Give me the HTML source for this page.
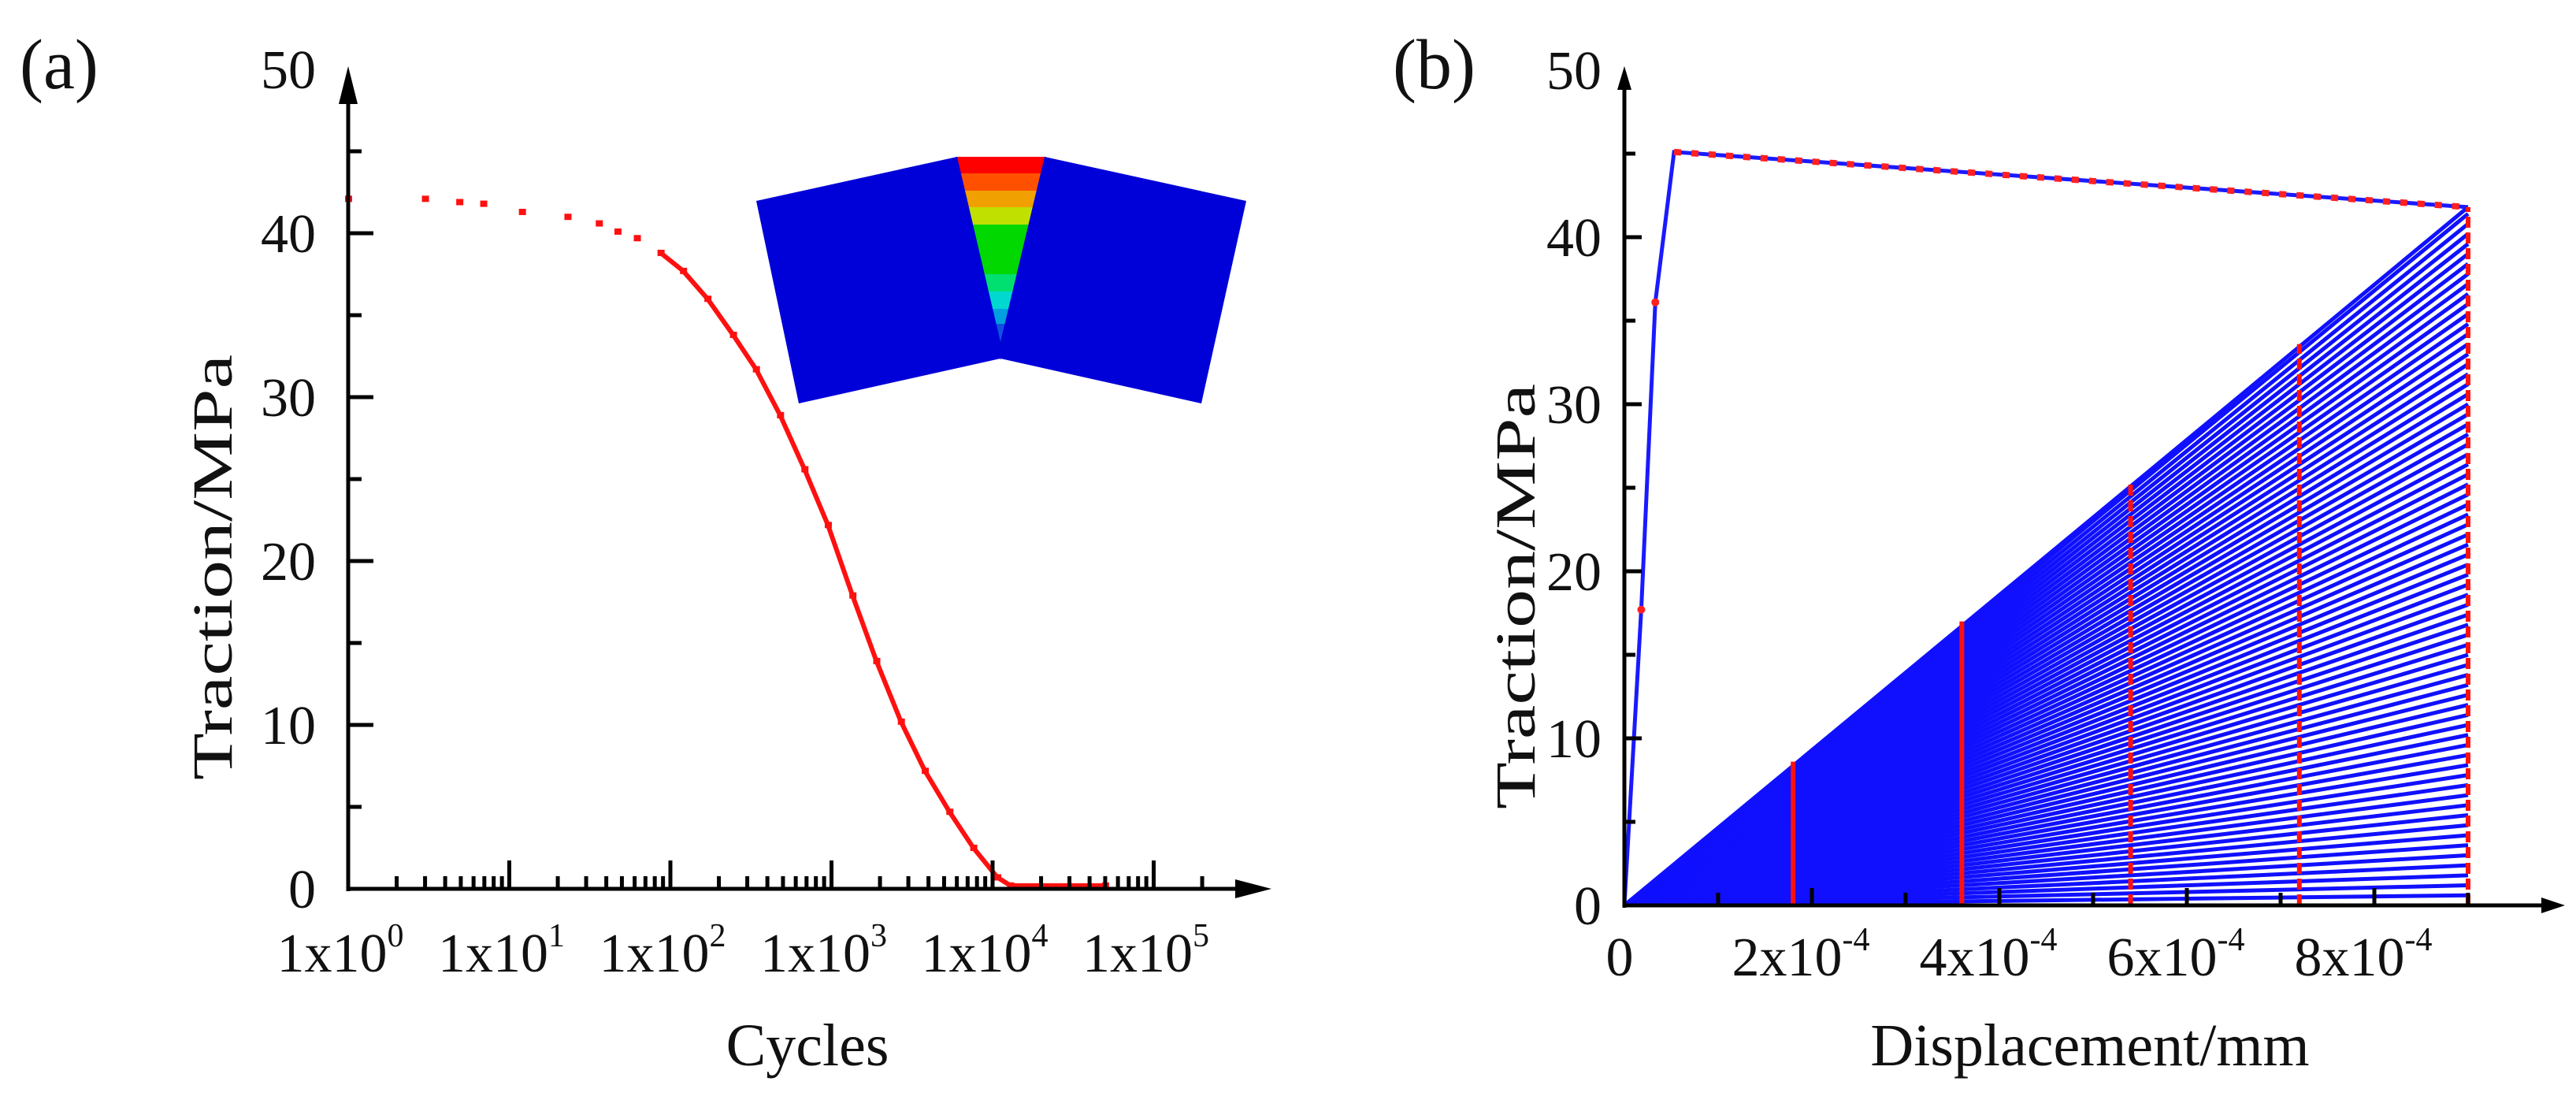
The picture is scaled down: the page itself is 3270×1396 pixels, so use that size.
<!DOCTYPE html>
<html><head><meta charset="utf-8"><style>
html,body{margin:0;padding:0;background:#fff;}
svg{display:block;}
text{font-family:"Liberation Serif","Times New Roman",serif;fill:#111;}
</style></head>
<body>
<svg id="fig" width="3270" height="1396" viewBox="0 0 3270 1396" xmlns="http://www.w3.org/2000/svg">
<text x="25" y="112" font-size="90">(a)</text>
<text x="1768" y="112" font-size="90">(b)</text>
<text transform="translate(294,720) rotate(-90)" text-anchor="middle" font-size="72" textLength="540" lengthAdjust="spacingAndGlyphs">Traction/MPa</text>
<text x="1025" y="1352" text-anchor="middle" font-size="76">Cycles</text>
<text transform="translate(1948,757) rotate(-90)" text-anchor="middle" font-size="72" textLength="540" lengthAdjust="spacingAndGlyphs">Traction/MPa</text>
<text x="2653" y="1352" text-anchor="middle" font-size="76">Displacement/mm</text>
<g id="inset">
<defs><clipPath id="wedgeClip"><polygon points="1215,199 1326,199 1270,434"/></clipPath></defs>
<polygon points="960,255 1215,199 1270,455 1014,512" fill="#0000d8"/>
<polygon points="1326,199 1582,255 1525,512 1270,455" fill="#0000d8"/>
<polygon points="1213,199 1328,199 1270,457" fill="#0000d8"/>
<g clip-path="url(#wedgeClip)">
<rect x="1200" y="199" width="140" height="22" fill="#ff0000"/>
<rect x="1200" y="220" width="140" height="23" fill="#ff5000"/>
<rect x="1200" y="242" width="140" height="22" fill="#f0a000"/>
<rect x="1200" y="263" width="140" height="23" fill="#c0e000"/>
<rect x="1200" y="285" width="140" height="64" fill="#00d800"/>
<rect x="1200" y="348" width="140" height="23" fill="#00e070"/>
<rect x="1200" y="370" width="140" height="23" fill="#00d8d0"/>
<rect x="1200" y="392" width="140" height="20" fill="#00a0e0"/>
<rect x="1200" y="411" width="140" height="25" fill="#1050e0"/>
</g>
</g>
</svg>
<script>
// ---- Panel (a) data ----
const cyclesA = [1, 3, 4.9, 6.9, 12, 23, 36, 47, 62, 87, 120, 170, 245, 340, 480, 680, 950, 1350, 1900, 2700, 3800, 5400, 7600, 10700, 12900, 50000];
const tractionA = [42.1, 42.1, 41.9, 41.8, 41.3, 41.0, 40.6, 40.1, 39.7, 38.8, 37.7, 36.0, 33.8, 31.7, 28.9, 25.6, 22.2, 17.9, 13.9, 10.2, 7.2, 4.7, 2.5, 0.7, 0.2, 0.2];
const aYTicks = [0, 10, 20, 30, 40, 50];
const aXDecades = [0, 1, 2, 3, 4, 5];
// ---- Panel (b) data ----
const envDisp = [0, 0.18e-4, 0.33e-4, 0.53e-4, 9.0e-4];
const envTraction = [0, 17.7, 36.1, 45.1, 41.8];
const unloadDisp = [1.8e-4, 3.6e-4, 5.4e-4, 7.2e-4, 9.0e-4];
const unloadTop = [8.6, 17.0, 25.2, 33.6, 41.8];
const fanEndDisp = 9.0e-4;
const fanEnd = [0.6,1.2,1.8,2.4,3.0,3.6,4.2,4.8,5.4,6.0,6.6,7.2,7.8,8.4,9.0,9.6,10.2,10.8,11.4,12.0,12.6,13.2,13.8,14.4,15.0,15.6,16.2,16.8,17.4,18.0,18.6,19.2,19.8,20.4,21.0,21.6,22.2,22.8,23.4,24.0,24.6,25.2,25.8,26.4,27.0,27.6,28.2,28.8,29.4,30.0,30.6,31.2,31.8,32.4,33.0,33.6,34.2,34.8,35.4,36.0,36.6,37.2,37.8,38.4,39.0,39.6,40.2,40.8,41.4,41.8];
const bYTicks = [0, 10, 20, 30, 40, 50];
const bXTicks = [0, 2e-4, 4e-4, 6e-4, 8e-4];
const bXTickLabels = ["0", "2x10", "4x10", "6x10", "8x10"];

const NS = "http://www.w3.org/2000/svg";
const svg = document.getElementById('fig');
function mk(tag, attrs, parent) {
  const e = document.createElementNS(NS, tag);
  for (const k in attrs) e.setAttribute(k, attrs[k]);
  (parent || svg).appendChild(e);
  return e;
}
const xA = n => 442 + 204.5 * Math.log10(n);
const yA = v => 1128 - 20.8 * v;
const xB = d => 2062 + d * 1.19e6;
const yB = v => 1149 - 21.2 * v;

// ---- Panel (b) marks ----
const fanG = mk('g', {});


fanEnd.forEach(v => {
  const l = mk('line', {x1: xB(0), y1: yB(0), x2: xB(fanEndDisp), y2: yB(v), stroke: '#1010ff', 'stroke-width': 5}, fanG);
  
  
});
const envPts = envDisp.map((d, i) => xB(d) + ',' + yB(envTraction[i])).join(' ');
const env = mk('polyline', {points: envPts, fill: 'none', stroke: '#1a1aff', 'stroke-width': 5});


const envTop = mk('line', {x1: xB(envDisp[3]), y1: yB(envTraction[3]), x2: xB(envDisp[4]), y2: yB(envTraction[4]), stroke: '#ff2020', 'stroke-width': 8, 'stroke-dasharray': '9 13'});


[1, 2].forEach(i => {
  const c = mk('circle', {cx: xB(envDisp[i]), cy: yB(envTraction[i]), r: 5, fill: '#ff2020'});
  
  
});
unloadDisp.forEach((d, i) => {
  const l = mk('line', {x1: xB(d), y1: yB(0), x2: xB(d), y2: yB(unloadTop[i]), stroke: '#ff1010', 'stroke-width': 6});
  if (i >= 2) l.setAttribute('stroke-dasharray', '14 6');
  
  
});

// ---- Panel (a) marks ----
const curveG = mk('g', {});


const dense = cyclesA.map((n, i) => [n, tractionA[i]]).filter(p => p[0] >= 80);
const pl = mk('polyline', {points: dense.map(p => xA(p[0]) + ',' + yA(p[1])).join(' '), fill: 'none', stroke: '#ff1010', 'stroke-width': 6}, curveG);


cyclesA.forEach((n, i) => {
  const r = mk('rect', {x: xA(n) - 4, y: yA(tractionA[i]) - 4, width: 9, height: 8, fill: '#ff1010'}, curveG);
  
  
});

// ---- Axes (a) ----
const axA = mk('g', {stroke: '#000', 'stroke-width': 5});


mk('line', {x1: 442, y1: yA(0) + 3, x2: 442, y2: 100}, axA);
mk('line', {x1: 440, y1: yA(0), x2: 1600, y2: yA(0)}, axA);
const aArrY = mk('polygon', {points: '442,84 430,132 454,132', fill: '#000', stroke: 'none'});


const aArrX = mk('polygon', {points: '1614,' + yA(0) + ' 1568,' + (yA(0) - 12) + ' 1568,' + (yA(0) + 12), fill: '#000'});


for (let v = 0; v <= 45; v += 5) {
  const major = v % 10 === 0;
  mk('line', {x1: 442, y1: yA(v), x2: 442 + (major ? 32 : 17), y2: yA(v)}, axA);
}
aYTicks.forEach(v => {
  const t = mk('text', {x: 401, y: yA(v) + 24, 'text-anchor': 'end', 'font-size': 70});
  t.textContent = String(v);
  
  
});
aXDecades.forEach(d => {
  for (let m = 2; m <= 10; m++) {
    const n = m * Math.pow(10, d);
    const x = xA(n);
    if (x > 1560) continue;
    mk('line', {x1: x, y1: yA(0), x2: x, y2: yA(0) - (m === 10 ? 36 : 16)}, axA);
  }
  const t = mk('text', {x: xA(Math.pow(10, d)) - 10, y: 1233, 'text-anchor': 'middle', 'font-size': 70});
  
  
  t.textContent = '1x10';
  const s = mk('tspan', {'font-size': 42, dy: -32}, t);
  s.textContent = String(d);
});

// ---- Axes (b) ----
const axB = mk('g', {stroke: '#000', 'stroke-width': 5});


mk('line', {x1: 2062, y1: yB(0) + 3, x2: 2062, y2: 105}, axB);
mk('line', {x1: 2060, y1: yB(0), x2: 3240, y2: yB(0)}, axB);
const bArrY = mk('polygon', {points: '2062,84 2053,114 2071,114', fill: '#000'});


const bArrX = mk('polygon', {points: '3256,' + yB(0) + ' 3226,' + (yB(0) - 10) + ' 3226,' + (yB(0) + 10), fill: '#000'});


for (let v = 0; v <= 45; v += 5) {
  mk('line', {x1: 2062, y1: yB(v), x2: 2062 + (v % 10 === 0 ? 22 : 14), y2: yB(v)}, axB);
}
bYTicks.forEach(v => {
  const t = mk('text', {x: 2033, y: yB(v) + 24, 'text-anchor': 'end', 'font-size': 70});
  t.textContent = String(v);
  
  
});
for (let k = 1; k <= 9; k++) {
  mk('line', {x1: xB(k * 1e-4), y1: yB(0), x2: xB(k * 1e-4), y2: yB(0) - (k % 2 === 0 ? 22 : 16)}, axB);
}
bXTicks.forEach((d, i) => {
  const t = mk('text', {x: xB(d) - (i === 0 ? 6 : 14), y: 1238, 'text-anchor': 'middle', 'font-size': 70});
  
  
  t.textContent = bXTickLabels[i];
  if (i > 0) {
    const s = mk('tspan', {'font-size': 42, dy: -32}, t);
    s.textContent = '-4';
  }
});
</script>
</body></html>
